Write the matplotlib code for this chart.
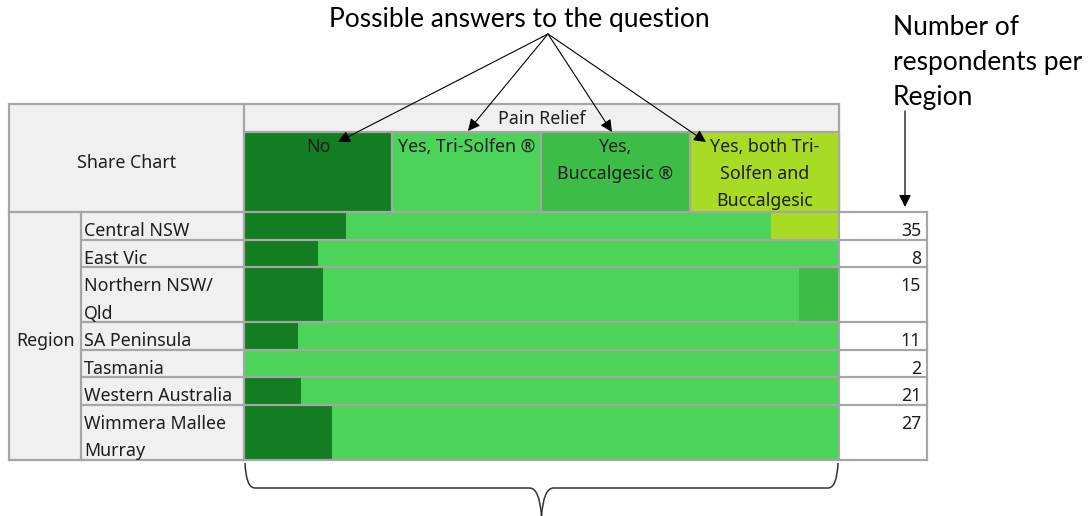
import matplotlib
matplotlib.use("Agg")
import matplotlib.pyplot as plt
import numpy as np
from matplotlib.patches import Rectangle, PathPatch
from matplotlib.path import Path

# ---------------- data ----------------
regions = ["Central NSW", "East Vic", "Northern NSW/\nQld", "SA Peninsula",
           "Tasmania", "Western Australia", "Wimmera Mallee\nMurray"]
row_lines = [1, 1, 2, 1, 1, 1, 2]
answers = ["No", "Yes, Tri-Solfen ®", "Yes,\nBuccalgesic ®",
           "Yes, both Tri-\nSolfen and\nBuccalgesic"]
counts_no = [6, 1, 2, 1, 0, 2, 4]
counts_tri = [25, 7, 12, 10, 2, 19, 23]
counts_bucc = [0, 0, 1, 0, 0, 0, 0]
counts_both = [4, 0, 0, 0, 0, 0, 0]
totals = [35, 8, 15, 11, 2, 21, 27]
colors = ["#127D21", "#4CD35A", "#3BBD47", "#A8DB23"]

# ---------------- figure ----------------
fig = plt.figure(figsize=(10.91, 5.16), dpi=100)
ax = fig.add_axes([0, 0, 1, 1])
ax.set_xlim(0, 1091)
ax.set_ylim(516, 0)
ax.axis("off")

TF = "Noto Sans"
AF = "Lato"
tcol = "#1E1E1E"
gcol = "#A6A6A6"
hdr_bg = "#F0F0F0"

x0, xreg, xlab, xbar1, xcnt = 9, 81, 244, 839, 927
col_x = [244, 392, 541, 690, 839]
ytop, ypr, yhdr = 104, 132, 212
ybot = 460
unit = (ybot - yhdr) / sum(row_lines)
bounds = yhdr + unit * np.concatenate([[0], np.cumsum(row_lines)])
centers = (bounds[:-1] + bounds[1:]) / 2
heights = np.diff(bounds)

# backgrounds
ax.add_patch(Rectangle((x0, ytop), xbar1 - x0, ypr - ytop, color=hdr_bg, zorder=0))
ax.add_patch(Rectangle((x0, ytop), xlab - x0, ybot - ytop, color=hdr_bg, zorder=0))
ax.add_patch(Rectangle((xbar1, yhdr), xcnt - xbar1, ybot - yhdr, color="white", zorder=0))

# header answer cells
for i in range(4):
    ax.add_patch(Rectangle((col_x[i], ypr), col_x[i + 1] - col_x[i], yhdr - ypr,
                           color=colors[i], zorder=1))

# stacked share bars
series = [counts_no, counts_tri, counts_bucc, counts_both]
tot = np.array(totals, dtype=float)
left = np.zeros(len(regions))
bw = xbar1 - xlab
for s, c in zip(series, colors):
    share = np.array(s) / tot
    ax.barh(centers, share * bw, left=xlab + left * bw, height=heights,
            color=c, edgecolor="none", zorder=1)
    left += share

# grid lines
lw = 1.6
def hl(y, xa, xb):
    ax.plot([xa, xb], [y, y], color=gcol, lw=lw, zorder=3, solid_capstyle="projecting")
def vl(x, ya, yb):
    ax.plot([x, x], [ya, yb], color=gcol, lw=lw, zorder=3, solid_capstyle="projecting")

hl(ytop, x0, xbar1)
hl(ypr, xlab, xbar1)
hl(yhdr, x0, xcnt)
for b in bounds[1:-1]:
    hl(b, xreg, xcnt)
hl(ybot, x0, xcnt)
vl(x0, ytop, ybot)
vl(xlab, ytop, ybot)
vl(xreg, yhdr, ybot)
vl(xbar1, ytop, ybot)
vl(xcnt, yhdr, ybot)
for x in col_x[1:-1]:
    vl(x, ypr, yhdr)

fs = 12.8
def txt(x, y, s, ha="left"):
    ax.text(x, y, s, ha=ha, va="baseline", fontsize=fs, family=TF, color=tcol, zorder=4)

txt((x0 + xlab) / 2, 168, "Share Chart", "center")
txt((xlab + xbar1) / 2, 124, "Pain Relief", "center")
txt((x0 + xreg) / 2, 346, "Region", "center")

for i, a in enumerate(answers):
    cx = (col_x[i] + col_x[i + 1]) / 2
    for k, line in enumerate(a.split("\n")):
        txt(cx, ypr + 20 + k * 27, line, "center")

for r, yb, n in zip(regions, bounds[:-1], totals):
    for k, line in enumerate(r.split("\n")):
        txt(xreg + 3, yb + 24 + k * unit, line)
    txt(xcnt - 6, yb + 24, str(n), "right")

# annotations
afs = 19
ax.text(519, 27, "Possible answers to the question", ha="center", va="baseline",
        fontsize=afs, family=AF, color="black")
origin = (548, 34)
for tgt in [(338, 142), (468, 131), (612, 132), (706, 142)]:
    ax.annotate("", xy=tgt, xytext=origin,
                arrowprops=dict(arrowstyle="-|>", color="black", lw=0.8,
                                mutation_scale=18, shrinkA=0, shrinkB=0), zorder=5)

for k, line in enumerate(["Number of", "respondents per", "Region"]):
    ax.text(893, 35 + k * 35, line, ha="left", va="baseline",
            fontsize=afs, family=AF, color="black")
ax.annotate("", xy=(905, 207), xytext=(905, 111),
            arrowprops=dict(arrowstyle="-|>", color="black", lw=0.9,
                            mutation_scale=18, shrinkA=0, shrinkB=0), zorder=5)

# brace
L, R, top, mid, tip = xlab + 1, xbar1 - 1, 463, 488, 516
cx = (L + R) / 2
verts = [(L, top), (L + 1, mid), (L + 10, mid), (cx - 12, mid),
         (cx - 2, mid), (cx, tip)]
codes = [Path.MOVETO, Path.CURVE3, Path.CURVE3, Path.LINETO, Path.CURVE3, Path.CURVE3]
ax.add_patch(PathPatch(Path(verts, codes), fill=False, color="#333333", lw=1.1, zorder=5))
verts_r = [(2 * cx - x, y) for x, y in verts]
ax.add_patch(PathPatch(Path(verts_r, codes), fill=False, color="#333333", lw=1.1, zorder=5))

fig.savefig("out.png", dpi=100)
